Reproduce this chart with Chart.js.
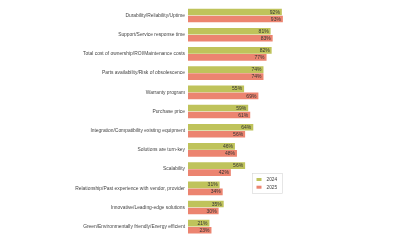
<!DOCTYPE html>
<html>
<head>
<meta charset="utf-8">
<script src="https://cdn.jsdelivr.net/npm/chart.js@4.4.1/dist/chart.umd.min.js"></script>
<style>
  html, body { margin: 0; padding: 0; background: #fff; }
  #wrap { width: 400px; height: 250px; }
</style>
</head>
<body>
<div id="wrap"><canvas id="chart"></canvas></div>
<script>
// Categorias (de arriba hacia abajo)
const categories = [
    'Durability/Reliability/Uptime',
    'Support/Service response time',
    'Total cost of ownership/ROI/Maintenance costs',
    'Parts availability/Risk of obsolescence',
    'Warranty program',
    'Purchase price',
    'Integration/Compatibility existing equipment',
    'Solutions are turn-key',
    'Scalability',
    'Relationship/Past experience with vendor, provider',
    'Innovative/Leading-edge solutions',
    'Green/Environmentally friendly/Energy efficient'
];

// Valores por serie (%)
const values2024 = [92, 81, 82, 74, 55, 59, 64, 46, 56, 31, 35, 21];
const values2025 = [93, 83, 77, 74, 69, 61, 56, 48, 42, 34, 30, 23];

const seriesLabels = ['2024', '2025'];
const seriesColors = ['#bfc35b', '#ec8470'];

const FONT = '"Liberation Sans", Arial, Helvetica, sans-serif';

/**
 * Etiquetas de valor dentro del final de cada barra
 */
const valueLabels = {
    id: 'valueLabels',
    afterDatasetsDraw(chart) {
        const ctx = chart.ctx;
        ctx.save();
        ctx.font = '5px ' + FONT;
        ctx.fillStyle = '#333';
        ctx.textAlign = 'right';
        ctx.textBaseline = 'middle';
        chart.data.datasets.forEach((ds, i) => {
            chart.getDatasetMeta(i).data.forEach((bar, j) => {
                ctx.fillText(ds.data[j] + '%', bar.x - 2, bar.y + 0.3);
            });
        });
        ctx.restore();
    }
};

/**
 * Leyenda dibujada dentro del area del grafico (abajo a la derecha)
 */
const boxLegend = {
    id: 'boxLegend',
    afterDraw(chart) {
        const ctx = chart.ctx;
        const x = 252, y = 173, w = 31, h = 21;
        ctx.save();
        ctx.fillStyle = '#fff';
        ctx.fillRect(x, y, w, h);
        ctx.strokeStyle = '#d6d6d6';
        ctx.lineWidth = 0.6;
        ctx.strokeRect(x + 0.5, y + 0.5, w - 1, h - 1);
        ctx.font = '4.8px ' + FONT;
        ctx.textBaseline = 'middle';
        ctx.textAlign = 'left';
        chart.data.datasets.forEach((ds, i) => {
            const rowY = y + 6.5 + i * 7.7;
            ctx.fillStyle = ds.backgroundColor;
            ctx.fillRect(x + 4.5, rowY - 1.5, 5, 3);
            ctx.fillStyle = '#444';
            ctx.fillText(ds.label, x + 14.5, rowY);
        });
        ctx.restore();
    }
};

new Chart(document.getElementById('chart'), {
    type: 'bar',
    data: {
        labels: categories,
        datasets: [
            { label: seriesLabels[0], data: values2024, backgroundColor: seriesColors[0] },
            { label: seriesLabels[1], data: values2025, backgroundColor: seriesColors[1] }
        ]
    },
    options: {
        indexAxis: 'y',
        responsive: true,
        maintainAspectRatio: false,
        animation: false,
        devicePixelRatio: 1,
        layout: { padding: { left: 0, right: 110, top: 5.4, bottom: 13.7 } },
        datasets: {
            bar: { categoryPercentage: 0.73, barPercentage: 0.95 }
        },
        plugins: {
            legend: { display: false },
            tooltip: { enabled: false }
        },
        scales: {
            x: {
                min: 0,
                max: 100,
                display: false
            },
            y: {
                grid: { display: false, drawTicks: false },
                border: { display: false },
                afterFit(scale) { scale.width = 188; },
                ticks: {
                    padding: 3,
                    color: '#444',
                    font: { family: FONT, size: 4.9 }
                }
            }
        }
    },
    plugins: [valueLabels, boxLegend]
});
</script>
</body>
</html>
